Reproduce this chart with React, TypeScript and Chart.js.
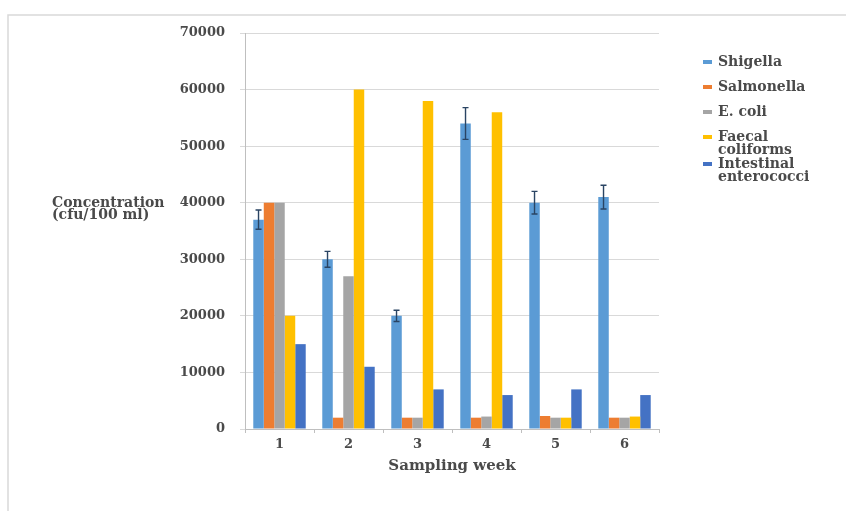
import React, { useEffect, useRef } from "react";
import { Chart, registerables } from "chart.js";

Chart.register(...registerables);

const weeks = ["1", "2", "3", "4", "5", "6"];
const seriesNames = ["Shigella", "Salmonella", "E. coli", "Faecal\ncoliforms", "Intestinal\nenterococci"];
const shigella = [37000, 30000, 20000, 54000, 40000, 41000];
const shigellaErr = [1700, 1400, 1000, 2800, 2000, 2100];
const salmonella = [40000, 2000, 2000, 2000, 2300, 2000];
const ecoli = [40000, 27000, 2000, 2200, 2000, 2000];
const faecal = [20000, 60000, 58000, 56000, 2000, 2200];
const intestinal = [15000, 11000, 7000, 6000, 7000, 6000];
const yTicks = [0, 10000, 20000, 30000, 40000, 50000, 60000, 70000];
const yTitleLines = ["Concentration", "(cfu/100 ml)"];
const xTitle = "Sampling week";

const colors = ["#5B9BD5", "#ED7D31", "#A5A5A5", "#FFC000", "#4472C4"];
const FONT = "'DejaVu Serif', serif";
const TEXT = "#4a4a4a";

const errorBarPlugin = {
  id: "errorBars",
  afterDatasetsDraw(chart: any) {
    const meta = chart.getDatasetMeta(0);
    const y = chart.scales.y;
    const ctx = chart.ctx;
    ctx.save();
    ctx.strokeStyle = "#2A4463";
    ctx.lineWidth = 1.4;
    meta.data.forEach((bar: any, i: number) => {
      const v = shigella[i];
      const e = shigellaErr[i];
      const top = y.getPixelForValue(v + e);
      const bot = y.getPixelForValue(v - e);
      const x = bar.x;
      ctx.beginPath();
      ctx.moveTo(x, top);
      ctx.lineTo(x, bot);
      ctx.moveTo(x - 3, top);
      ctx.lineTo(x + 3, top);
      ctx.moveTo(x - 3, bot);
      ctx.lineTo(x + 3, bot);
      ctx.stroke();
    });
    ctx.restore();
  },
};

const decorPlugin = {
  id: "decor",
  afterDraw(chart: any) {
    const ctx = chart.ctx;
    ctx.save();
    // outer frame (top and left edges)
    ctx.strokeStyle = "#d9d9d9";
    ctx.lineWidth = 1.5;
    ctx.beginPath();
    ctx.moveTo(8, chart.height);
    ctx.lineTo(8, 15);
    ctx.lineTo(chart.width, 15);
    ctx.stroke();

    // horizontal y-axis title
    ctx.fillStyle = TEXT;
    ctx.font = `bold 14px ${FONT}`;
    ctx.textAlign = "left";
    ctx.textBaseline = "middle";
    yTitleLines.forEach((t, i) => ctx.fillText(t, 52, 203 + i * 12.5));

    // legend
    const lineH = 13.5;
    let yy = 62;
    chart.data.datasets.forEach((ds: any, i: number) => {
      const lines = String(ds.label).split("\n");
      ctx.fillStyle = colors[i];
      ctx.fillRect(703, yy - 2, 9, 4);
      ctx.fillStyle = TEXT;
      ctx.font = `bold 14px ${FONT}`;
      lines.forEach((ln, j) => ctx.fillText(ln, 718, yy + j * lineH));
      yy += lines.length > 1 ? lines.length * lineH : 25;
    });
    ctx.restore();
  },
};

export default function App() {
  const ref = useRef<HTMLCanvasElement | null>(null);
  useEffect(() => {
    document.body.style.margin = "0";
    const series = [shigella, salmonella, ecoli, faecal, intestinal];
    const chart = new Chart(ref.current as HTMLCanvasElement, {
      type: "bar",
      data: {
        labels: weeks,
        datasets: series.map((d, i) => ({
          label: seriesNames[i],
          data: d,
          backgroundColor: colors[i],
          borderWidth: 0,
          categoryPercentage: 0.76,
          barPercentage: 1.0,
        })),
      },
      options: {
        animation: false,
        responsive: false,
        maintainAspectRatio: false,
        layout: { padding: { left: 0, right: 187, top: 33, bottom: 0 } },
        plugins: { legend: { display: false }, tooltip: { enabled: false } },
        scales: {
          x: {
            afterFit: (s: any) => { s.height = 82; },
            grid: { display: true, drawOnChartArea: false, tickLength: 4, color: "#bfbfbf", offset: true },
            border: { color: "#bfbfbf", width: 1 },
            ticks: { color: TEXT, font: { family: FONT, size: 13, weight: "bold" }, padding: 4 },
            title: {
              display: true,
              text: xTitle,
              color: TEXT,
              font: { family: FONT, size: 15, weight: "bold" },
              padding: { top: 0, bottom: 36 },
            },
          },
          y: {
            min: 0,
            max: 70000,
            afterFit: (s: any) => { s.width = 245; },
            afterBuildTicks: (s: any) => { s.ticks = yTicks.map((v) => ({ value: v })); },
            grid: { color: "#d9d9d9", tickLength: 5 },
            border: { color: "#bfbfbf", width: 1 },
            ticks: {
              color: TEXT,
              font: { family: FONT, size: 13, weight: "bold" },
              padding: 15,
              callback: (v: any) => String(v),
            },
          },
        },
      },
      plugins: [errorBarPlugin, decorPlugin],
    });
    return () => chart.destroy();
  }, []);
  return (
    <div style={{ width: 846, height: 511, background: "#fff" }}>
      <canvas ref={ref} width={846} height={511} style={{ display: "block" }} />
    </div>
  );
}
